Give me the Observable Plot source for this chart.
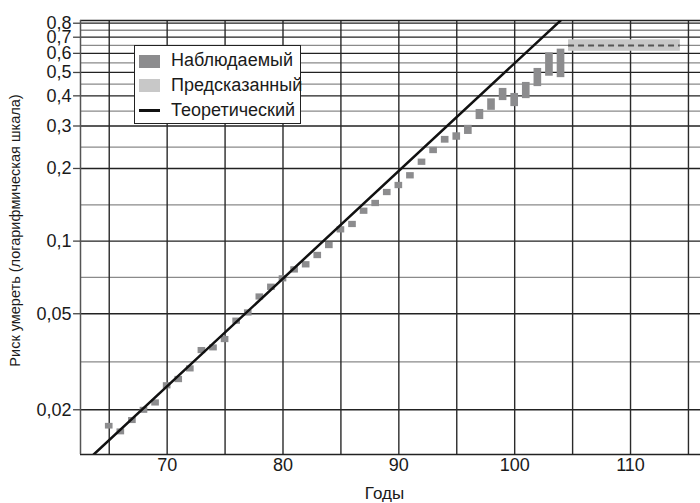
<!DOCTYPE html>
<html><head><meta charset="utf-8">
<script src="https://cdn.jsdelivr.net/npm/d3@7"></script>
<script src="https://cdn.jsdelivr.net/npm/@observablehq/plot@0.6"></script>
<style>
body{margin:0;background:#fff;}
#wrap{position:relative;width:700px;height:503px;font-family:"Liberation Sans",Arial,sans-serif;color:#1a1a1a;}
#legend{position:absolute;left:134px;top:45px;width:167px;height:79px;border:1px solid #222;background:#fff;box-sizing:border-box;}
#legend .sw{position:absolute;left:4px;width:21px;height:12.5px;}
#legend .ln{position:absolute;left:4px;width:21px;height:2.5px;background:#111;}
#legend .tx{position:absolute;left:36px;font-size:18px;line-height:18px;white-space:nowrap;color:#1a1a1a;}
</style></head>
<body><div id="wrap"></div>
<script>
// Observed hazard (risk of dying) by age: lower / upper bounds of each bar
const ages = [65,66,67,68,69,70,71,72,73,74,75,76,77,78,79,80,81,82,83,84,85,86,87,88,89,90,91,92,93,94,95,96,97,98,99,100,101,102,103,104];
const obsLow = [0.0167,0.0158,0.0176,0.0194,0.0208,0.0245,0.0260,0.0288,0.0343,0.0352,0.0381,0.0454,0.0491,0.0572,0.0627,0.0680,0.0740,0.0777,0.0849,0.0934,0.1085,0.1142,0.1296,0.1395,0.1549,0.1656,0.1817,0.2068,0.2313,0.2556,0.2628,0.2778,0.3202,0.3497,0.3837,0.3623,0.3910,0.4385,0.4842,0.4777];
const obsHigh = [0.0175,0.0166,0.0185,0.0204,0.0219,0.0258,0.0274,0.0303,0.0361,0.0370,0.0401,0.0478,0.0517,0.0602,0.0661,0.0716,0.0780,0.0819,0.0895,0.0984,0.1143,0.1203,0.1365,0.1470,0.1632,0.1745,0.1915,0.2179,0.2438,0.2706,0.2801,0.3007,0.3499,0.3873,0.4277,0.4077,0.4529,0.5176,0.6006,0.6223];
// Predicted plateau
const predStart = [104.65];
const predEnd = [114.3];
const predLow = [0.612];
const predHigh = [0.683];
const predMid = [0.647];
// Theoretical (Gompertz) line endpoints
const theoAges = [63.66, 103.96];
const theoRisk = [0.01305, 0.821];
// Axes
const xDomain = [62.52, 116.04];
const yDomain = [0.01305, 0.821];
const xTicks = [70, 80, 90, 100, 110];
const xGrid = [65, 70, 75, 80, 85, 90, 95, 100, 105, 110, 115];
const yMajor = [0.02, 0.05, 0.1, 0.2, 0.3, 0.4, 0.5, 0.6, 0.7, 0.8];
const yTickLabels = ["0,02", "0,05", "0,1", "0,2", "0,3", "0,4", "0,5", "0,6", "0,7", "0,8"];
const yMinor = [0.0316, 0.0707, 0.1414, 0.245, 0.346, 0.447, 0.548, 0.648, 0.748];
const yTitle = "Риск умереть (логарифмическая шкала)";
const xTitle = "Годы";
const legendLabels = ["Наблюдаемый", "Предсказанный", "Теоретический"];

const obs = ages.map((a, i) => ({age: a, low: obsLow[i], high: obsHigh[i]}));
const pred = predStart.map((s, i) => ({start: s, end: predEnd[i], low: predLow[i], high: predHigh[i], mid: predMid[i]}));
const theo = theoAges.map((a, i) => ({age: a, risk: theoRisk[i]}));
const yTicks = yMajor.map((v, i) => ({v, label: yTickLabels[i]}));

const font = '"Liberation Sans", Arial, sans-serif';
const chart = Plot.plot({
  width: 700, height: 503,
  marginTop: 20, marginBottom: 49, marginLeft: 80, marginRight: 0,
  style: {fontFamily: font, fontSize: "18px", color: "#1a1a1a", background: "#fff"},
  x: {domain: xDomain},
  y: {type: "log", domain: yDomain, axis: null},
  marks: [
    Plot.gridY(yMinor, {stroke: "#8a8a8a", strokeOpacity: 1, strokeWidth: 1.3}),
    Plot.gridY(yMajor, {stroke: "#222", strokeOpacity: 1, strokeWidth: 1.3}),
    Plot.gridX(xGrid, {stroke: "#2a2a2a", strokeOpacity: 1, strokeWidth: 1.4}),
    Plot.ruleY([yDomain[1]], {stroke: "#222", strokeWidth: 1.5}),
    Plot.ruleY([yDomain[0]], {stroke: "#222", strokeWidth: 1.5}),
    Plot.ruleX([xDomain[0]], {stroke: "#555", strokeWidth: 1.5}),
    Plot.rect(pred, {x1: "start", x2: "end", y1: "low", y2: "high", fill: "#c8c8c8"}),
    Plot.ruleY(pred, {x1: "start", x2: "end", y: "mid", stroke: "#555", strokeWidth: 2, strokeDasharray: "6,4"}),
    Plot.rect(obs, {x1: d => d.age - 0.33, x2: d => d.age + 0.33, y1: "low", y2: "high", fill: "#8c8c8e", insetTop: -0.4, insetBottom: -0.4}),
    Plot.line(theo, {x: "age", y: "risk", stroke: "#111", strokeWidth: 2.5, clip: true}),
    // y ticks (short outward marks) and labels
    Plot.ruleY(yTicks, {y: "v", x1: xDomain[0] - 0.6, x2: xDomain[0], stroke: "#444", strokeWidth: 1.3}),
    Plot.text(yTicks, {y: "v", x: xDomain[0], text: "label", textAnchor: "end", dx: -9, fontSize: 18, fill: "#1a1a1a"}),
    Plot.text([yTitle], {text: d => d, frameAnchor: "left", rotate: -90, dx: -65, dy: -7, fontSize: 14.5, lineAnchor: "middle", textAnchor: "middle", fill: "#1a1a1a"}),
    Plot.axisX(xTicks, {
      tickFormat: d => String(d), tickSize: 0, tickPadding: 4, fontSize: 18,
      label: null
    }),
    Plot.text([xTitle], {text: d => d, frameAnchor: "bottom", dy: 44, dx: -6, fontSize: 17, fill: "#1a1a1a"})
  ]
});
const wrap = document.getElementById("wrap");
wrap.appendChild(chart);

const legend = document.createElement("div");
legend.id = "legend";
legend.innerHTML =
  `<div class="sw" style="top:9px;background:#8c8c8e"></div><div class="tx" style="top:5px">${legendLabels[0]}</div>` +
  `<div class="sw" style="top:33px;background:#c8c8c8"></div><div class="tx" style="top:29.5px">${legendLabels[1]}</div>` +
  `<div class="ln" style="top:63px"></div><div class="tx" style="top:54.5px">${legendLabels[2]}</div>`;
wrap.appendChild(legend);
</script>
</body></html>
